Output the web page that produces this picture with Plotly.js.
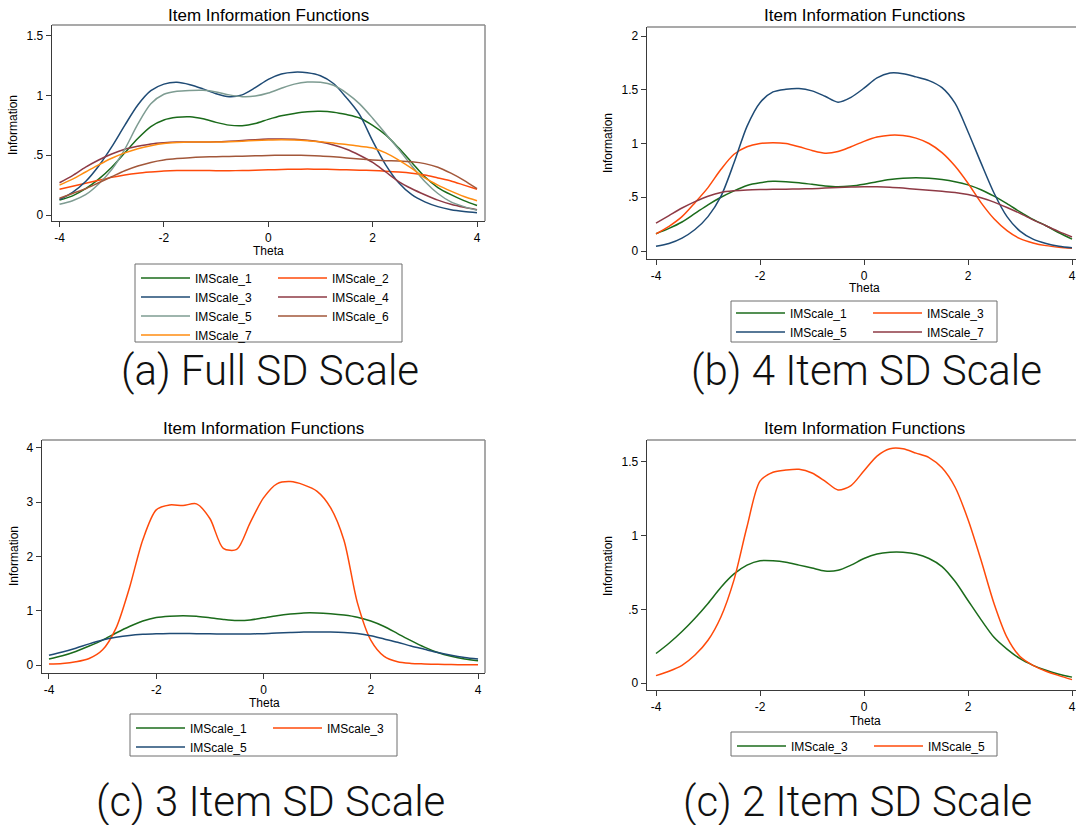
<!DOCTYPE html>
<html><head><meta charset="utf-8">
<script src="https://cdn.plot.ly/plotly-3.0.1.min.js"></script>
<style>html,body{margin:0;padding:0;background:#fff}#chart{width:1076px;height:825px}</style>
</head><body><div id="chart"></div>
<script>
// ---------- data ----------
const theta = [-4, -3.75, -3.5, -3.25, -3, -2.75, -2.5, -2.25, -2, -1.75, -1.5, -1.25, -1, -0.75, -0.5, -0.25, 0,
               0.25, 0.5, 0.75, 1, 1.25, 1.5, 1.75, 2, 2.25, 2.5, 2.75, 3, 3.25, 3.5, 3.75, 4];
const xTickVals = [-4, -2, 0, 2, 4];
const xTickText = ['-4', '-2', '0', '2', '4'];

// (a) Full SD Scale
const a_IMScale_1 = [0.125, 0.16, 0.22, 0.30, 0.40, 0.52, 0.64, 0.74, 0.795, 0.817, 0.822, 0.805, 0.775, 0.752, 0.747, 0.765, 0.80, 0.83, 0.85, 0.864, 0.867, 0.86, 0.84, 0.812, 0.75, 0.67, 0.56, 0.44, 0.32, 0.23, 0.17, 0.12, 0.08];
const a_IMScale_2 = [0.215, 0.24, 0.265, 0.29, 0.315, 0.335, 0.35, 0.36, 0.368, 0.372, 0.373, 0.372, 0.371, 0.371, 0.372, 0.375, 0.378, 0.381, 0.383, 0.384, 0.383, 0.381, 0.378, 0.375, 0.372, 0.367, 0.36, 0.35, 0.335, 0.31, 0.285, 0.25, 0.215];
const a_IMScale_3 = [0.13, 0.19, 0.28, 0.41, 0.57, 0.75, 0.92, 1.04, 1.095, 1.11, 1.09, 1.055, 1.015, 0.99, 1.005, 1.065, 1.135, 1.18, 1.195, 1.19, 1.165, 1.1, 0.98, 0.84, 0.62, 0.42, 0.27, 0.17, 0.11, 0.07, 0.045, 0.03, 0.02];
const a_IMScale_4 = [0.27, 0.33, 0.40, 0.46, 0.51, 0.55, 0.575, 0.595, 0.605, 0.61, 0.61, 0.61, 0.612, 0.617, 0.623, 0.63, 0.635, 0.636, 0.633, 0.625, 0.61, 0.585, 0.55, 0.50, 0.44, 0.36, 0.28, 0.22, 0.17, 0.125, 0.09, 0.065, 0.045];
const a_IMScale_5 = [0.09, 0.12, 0.17, 0.26, 0.38, 0.55, 0.76, 0.93, 1.01, 1.035, 1.042, 1.043, 1.03, 1.005, 0.99, 0.995, 1.02, 1.06, 1.095, 1.112, 1.11, 1.085, 1.02, 0.93, 0.81, 0.68, 0.55, 0.41, 0.28, 0.18, 0.11, 0.07, 0.04];
const a_IMScale_6 = [0.14, 0.18, 0.22, 0.27, 0.32, 0.37, 0.41, 0.44, 0.46, 0.472, 0.48, 0.485, 0.488, 0.49, 0.492, 0.495, 0.498, 0.5, 0.5, 0.498, 0.494, 0.487, 0.478, 0.468, 0.46, 0.455, 0.452, 0.445, 0.43, 0.40, 0.35, 0.29, 0.22];
const a_IMScale_7 = [0.25, 0.30, 0.36, 0.42, 0.475, 0.52, 0.555, 0.58, 0.598, 0.606, 0.61, 0.61, 0.61, 0.613, 0.618, 0.624, 0.628, 0.63, 0.628, 0.622, 0.613, 0.602, 0.59, 0.575, 0.56, 0.52, 0.46, 0.39, 0.31, 0.25, 0.2, 0.155, 0.12];

// (b) 4 Item SD Scale
const b_IMScale_1 = [0.16, 0.21, 0.27, 0.35, 0.43, 0.50, 0.56, 0.61, 0.635, 0.648, 0.645, 0.635, 0.62, 0.605, 0.598, 0.605, 0.622, 0.645, 0.665, 0.678, 0.682, 0.678, 0.665, 0.645, 0.615, 0.57, 0.51, 0.44, 0.365, 0.295, 0.235, 0.17, 0.11];
const b_IMScale_3 = [0.16, 0.23, 0.32, 0.45, 0.59, 0.76, 0.90, 0.97, 1.0, 1.008, 1.0, 0.97, 0.935, 0.91, 0.925, 0.97, 1.02, 1.06, 1.078, 1.075, 1.05, 1.0, 0.915, 0.79, 0.63, 0.45, 0.30, 0.19, 0.115, 0.075, 0.05, 0.035, 0.025];
const b_IMScale_5 = [0.045, 0.07, 0.12, 0.2, 0.32, 0.51, 0.82, 1.16, 1.38, 1.48, 1.505, 1.512, 1.49, 1.44, 1.385, 1.43, 1.515, 1.61, 1.655, 1.65, 1.62, 1.585, 1.52, 1.375, 1.11, 0.82, 0.54, 0.32, 0.185, 0.11, 0.07, 0.045, 0.03];
const b_IMScale_7 = [0.26, 0.33, 0.40, 0.46, 0.51, 0.545, 0.56, 0.568, 0.572, 0.574, 0.575, 0.577, 0.58, 0.585, 0.59, 0.595, 0.598, 0.597, 0.593, 0.585, 0.575, 0.565, 0.555, 0.545, 0.525, 0.495, 0.455, 0.405, 0.35, 0.29, 0.235, 0.18, 0.13];

// (c) 3 Item SD Scale
const c_IMScale_1 = [0.11, 0.17, 0.25, 0.35, 0.46, 0.59, 0.71, 0.81, 0.875, 0.9, 0.91, 0.9, 0.87, 0.84, 0.82, 0.83, 0.87, 0.91, 0.94, 0.96, 0.96, 0.945, 0.92, 0.88, 0.81, 0.71, 0.58, 0.45, 0.33, 0.23, 0.16, 0.11, 0.08];
const c_IMScale_3 = [0.02, 0.03, 0.06, 0.12, 0.28, 0.68, 1.42, 2.31, 2.86, 2.95, 2.94, 2.97, 2.7, 2.15, 2.13, 2.62, 3.08, 3.34, 3.38, 3.32, 3.2, 2.9, 2.3, 1.15, 0.46, 0.16, 0.06, 0.03, 0.02, 0.012, 0.008, 0.005, 0.003];
const c_IMScale_5 = [0.18, 0.24, 0.31, 0.39, 0.46, 0.51, 0.545, 0.565, 0.575, 0.58, 0.58, 0.578, 0.575, 0.572, 0.57, 0.572, 0.578, 0.59, 0.6, 0.608, 0.61, 0.608, 0.6, 0.58, 0.54, 0.48, 0.42, 0.35, 0.29, 0.23, 0.18, 0.14, 0.11];

// (c) 2 Item SD Scale
const d_IMScale_3 = [0.2, 0.27, 0.35, 0.44, 0.54, 0.65, 0.74, 0.8, 0.83, 0.83, 0.82, 0.80, 0.78, 0.76, 0.765, 0.8, 0.845, 0.875, 0.887, 0.887, 0.875, 0.845, 0.79, 0.69, 0.56, 0.43, 0.31, 0.23, 0.165, 0.12, 0.086, 0.06, 0.04];
const d_IMScale_5 = [0.05, 0.08, 0.12, 0.19, 0.29, 0.45, 0.70, 1.06, 1.37, 1.43, 1.445, 1.45, 1.425, 1.37, 1.31, 1.34, 1.44, 1.54, 1.59, 1.59, 1.56, 1.53, 1.46, 1.33, 1.11, 0.835, 0.54, 0.31, 0.18, 0.12, 0.08, 0.05, 0.023];

const titleText = 'Item Information Functions';
const captions = ['(a) Full SD Scale', '(b) 4 Item SD Scale', '(c) 3 Item SD Scale', '(c) 2 Item SD Scale'];

// ---------- styling ----------
const W = 1076, H = 825;
const FONT = 'Liberation Sans, Arial, Helvetica, sans-serif';
const COL = {dkgreen: '#1b6b1b', orangered: '#ff4a0a', navy: '#1f4b75', maroon: '#8e3a45',
             teal: '#7e9c92', sienna: '#a2573a', orange: '#ff8c10'};
const fx = p => p / W;
const fy = p => 1 - p / H;

const panels = [
  {id: '',  xd: [52, 485],  yd: [25, 221],  xr: [-4.144, 4.153], yr: [-0.05, 1.5895],
   yt: [0, 0.5, 1, 1.5], ytt: ['0', '.5', '1', '1.5'], rightBorder: true,
   series: [['IMScale_1', a_IMScale_1, COL.dkgreen, 'legend'], ['IMScale_2', a_IMScale_2, COL.orangered, 'legend2'],
            ['IMScale_3', a_IMScale_3, COL.navy, 'legend'], ['IMScale_4', a_IMScale_4, COL.maroon, 'legend2'],
            ['IMScale_5', a_IMScale_5, COL.teal, 'legend'], ['IMScale_6', a_IMScale_6, COL.sienna, 'legend2'],
            ['IMScale_7', a_IMScale_7, COL.orange, 'legend']],
   title: [268, 15], ytitle: [13, 125], xtitle: [268, 251], cap: [270, 370],
   leg: [[136, 263.5], [273, 263.5]], legBox: [135, 402, 264, 342]},
  {id: '2', xd: [647, 1076], yd: [27, 259], xr: [-4.173, 4.077], yr: [-0.0744, 2.084],
   yt: [0, 0.5, 1, 1.5, 2], ytt: ['0', '.5', '1', '1.5', '2'], rightBorder: false,
   series: [['IMScale_1', b_IMScale_1, COL.dkgreen, 'legend3'], ['IMScale_3', b_IMScale_3, COL.orangered, 'legend4'],
            ['IMScale_5', b_IMScale_5, COL.navy, 'legend3'], ['IMScale_7', b_IMScale_7, COL.maroon, 'legend4']],
   title: [864, 15], ytitle: [608, 143], xtitle: [864, 288], cap: [866, 370],
   leg: [[731, 298.5], [868, 298.5]], legBox: [731, 997, 301, 342]},
  {id: '3', xd: [42, 485], yd: [440, 673], xr: [-4.13, 4.13], yr: [-0.147, 4.147],
   yt: [0, 1, 2, 3, 4], ytt: ['0', '1', '2', '3', '4'], rightBorder: true,
   series: [['IMScale_1', c_IMScale_1, COL.dkgreen, 'legend5'], ['IMScale_3', c_IMScale_3, COL.orangered, 'legend6'],
            ['IMScale_5', c_IMScale_5, COL.navy, 'legend5']],
   title: [263, 428], ytitle: [14, 556], xtitle: [264, 703], cap: [270, 801],
   leg: [[131, 713.5], [268, 713.5]], legBox: [130, 397, 714, 756]},
  {id: '4', xd: [647, 1076], yd: [440, 690], xr: [-4.173, 4.077], yr: [-0.0475, 1.649],
   yt: [0, 0.5, 1, 1.5], ytt: ['0', '.5', '1', '1.5'], rightBorder: false,
   series: [['IMScale_3', d_IMScale_3, COL.dkgreen, 'legend7'], ['IMScale_5', d_IMScale_5, COL.orangered, 'legend8']],
   title: [864, 428], ytitle: [608, 566], xtitle: [865, 721], cap: [857, 801],
   leg: [[732, 731.5], [869, 731.5]], legBox: [731, 997, 732, 756]}
];

const data = [];
const layout = {
  width: W, height: H, margin: {l: 0, r: 0, t: 0, b: 0},
  paper_bgcolor: '#fff', plot_bgcolor: '#fff',
  font: {family: FONT, size: 12, color: '#000'},
  showlegend: true, annotations: [], shapes: []
};

const legNames = ['legend', 'legend2', 'legend3', 'legend4', 'legend5', 'legend6', 'legend7', 'legend8'];
let li = 0;

panels.forEach((p, pi) => {
  const xa = 'x' + p.id, ya = 'y' + p.id;
  p.series.forEach(s => {
    data.push({x: theta, y: s[1], name: s[0], type: 'scatter', mode: 'lines',
      xaxis: xa, yaxis: ya, legend: s[3], hoverinfo: 'skip',
      line: {color: s[2], width: 1.5, shape: 'spline', smoothing: 0.8}});
  });
  const axCommon = {showgrid: false, zeroline: false, showline: true, linecolor: '#3a3a3a', linewidth: 1.3,
    ticks: 'outside', ticklen: 5, tickwidth: 1, tickcolor: '#3a3a3a', fixedrange: true,
    tickfont: {family: FONT, size: 12, color: '#000'}};
  layout['xaxis' + p.id] = Object.assign({}, axCommon, {
    domain: [fx(p.xd[0]), fx(p.xd[1])], range: p.xr, anchor: ya,
    tickmode: 'array', tickvals: xTickVals, ticktext: xTickText});
  layout['yaxis' + p.id] = Object.assign({}, axCommon, {
    domain: [fy(p.yd[1]), fy(p.yd[0])], range: p.yr, anchor: xa,
    tickmode: 'array', tickvals: p.yt, ticktext: p.ytt});
  // plot region outline (top / right)
  const xdRef = xa + ' domain', ydRef = ya + ' domain';
  layout.shapes.push({type: 'line', xref: xdRef, yref: ydRef, x0: 0, x1: 1, y0: 1, y1: 1,
    line: {color: '#8c8c8c', width: 1.5}, layer: 'below'});
  if (p.rightBorder) {
    layout.shapes.push({type: 'line', xref: xdRef, yref: ydRef, x0: 1, x1: 1, y0: 0, y1: 1,
      line: {color: '#8c8c8c', width: 1.5}, layer: 'below'});
  }
  // legend frame
  layout.shapes.push({type: 'rect', xref: 'paper', yref: 'paper',
    x0: fx(p.legBox[0]), x1: fx(p.legBox[1]), y0: fy(p.legBox[3]), y1: fy(p.legBox[2]),
    line: {color: '#6e6e6e', width: 1}, fillcolor: 'rgba(0,0,0,0)', layer: 'below'});
  // legends (two columns)
  p.leg.forEach(pos => {
    layout[legNames[li++]] = {x: fx(pos[0]), y: fy(pos[1]), xanchor: 'left', yanchor: 'top',
      orientation: 'v', bgcolor: 'rgba(0,0,0,0)', borderwidth: 0, itemwidth: 49,
      tracegroupgap: 0, font: {family: FONT, size: 12, color: '#000'}, itemclick: false, itemdoubleclick: false};
  });
  // texts
  layout.annotations.push(
    {text: titleText, x: fx(p.title[0]), y: fy(p.title[1]), xref: 'paper', yref: 'paper',
     xanchor: 'center', yanchor: 'middle', showarrow: false, font: {family: FONT, size: 17, color: '#000'}},
    {text: 'Information', x: fx(p.ytitle[0]), y: fy(p.ytitle[1]), xref: 'paper', yref: 'paper', textangle: -90,
     xanchor: 'center', yanchor: 'middle', showarrow: false, font: {family: FONT, size: 12, color: '#000'}},
    {text: 'Theta', x: fx(p.xtitle[0]), y: fy(p.xtitle[1]), xref: 'paper', yref: 'paper',
     xanchor: 'center', yanchor: 'middle', showarrow: false, font: {family: FONT, size: 12, color: '#000'}},
    {text: captions[pi], x: fx(p.cap[0]), y: fy(p.cap[1]), xref: 'paper', yref: 'paper',
     xanchor: 'center', yanchor: 'middle', showarrow: false,
     font: {family: 'Roboto, Lato, Open Sans, sans-serif', size: 42, weight: 300, color: '#111'}}
  );
});

Plotly.newPlot('chart', data, layout, {staticPlot: true, displayModeBar: false});
</script></body></html>
